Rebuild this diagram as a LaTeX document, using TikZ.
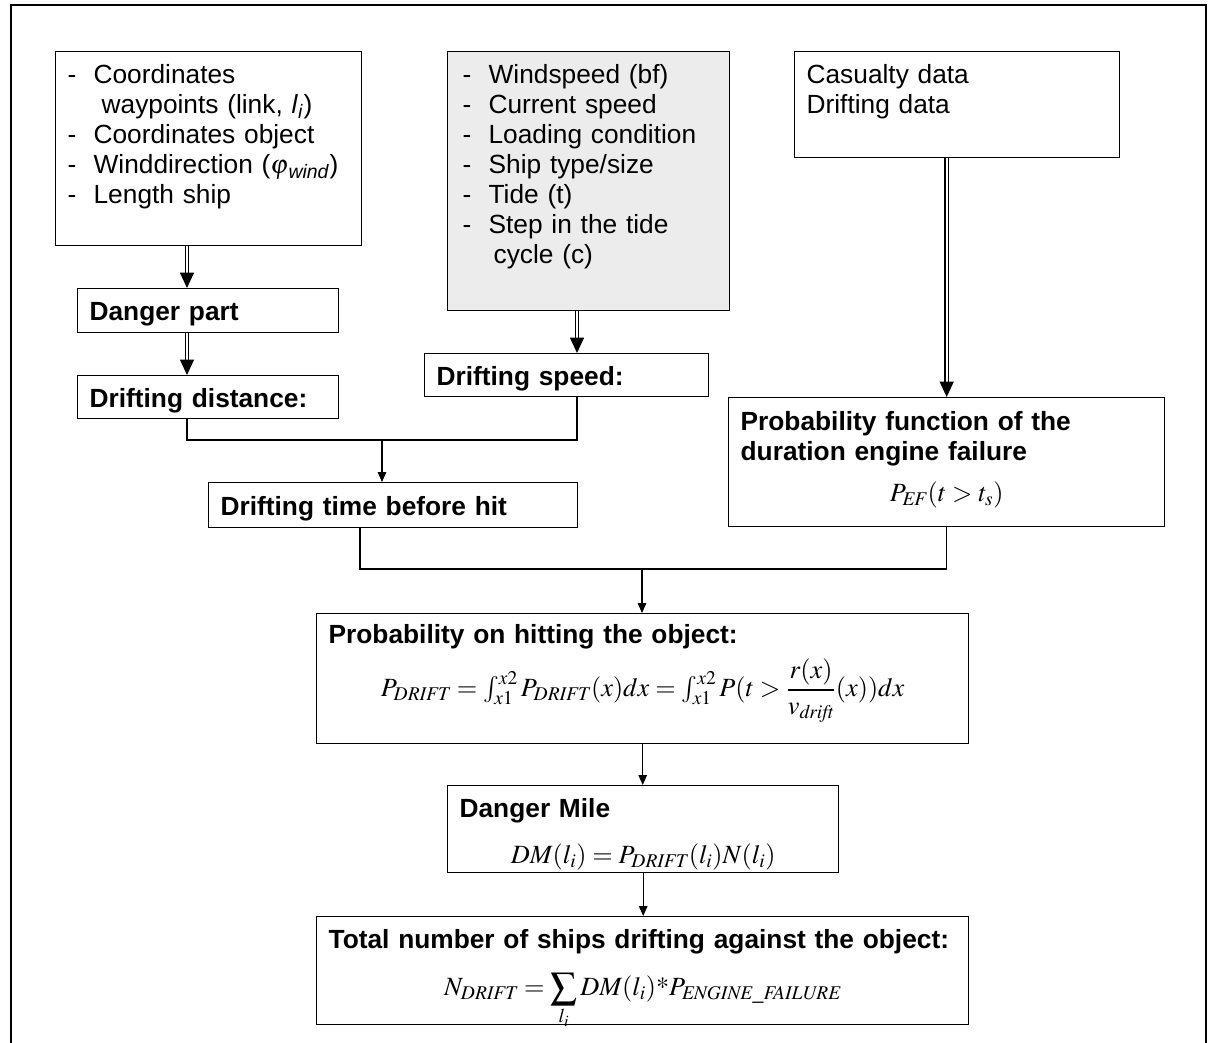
\documentclass[tikz,border=0pt]{standalone}
\usepackage{amsmath}
\usepackage{mathptmx}
\usepackage[no-math]{fontspec}
\setmainfont{Liberation Sans}
\usetikzlibrary{arrows.meta,calc}

\newcommand{\dashitem}[1]{\makebox[0.65cm][l]{-}#1}
\newcommand{\formline}[1]{\makebox[\linewidth]{#1}}

\tikzset{
  blk/.style={draw, line width=0.9pt, anchor=north west, inner xsep=0.3cm,
    inner ysep=0pt, align=left},
  wire/.style={line width=0.75pt},
  arr/.style={line width=0.75pt, -{Triangle[length=7pt,width=6pt]}},
  dbl/.style={double, double distance=1.6pt, line width=0.9pt,
    -{Triangle[length=11pt,width=10pt]}}
}

\begin{document}
\begin{tikzpicture}[x=0.025cm, y=-0.025cm, font=\fontsize{18.7}{21.3}\selectfont]
\useasboundingbox (0,0) rectangle (1212,1043);
\draw[line width=1.4pt] (11,1043) -- (11,5) -- (1206,5) -- (1206,1043);

% input boxes
\node (A) [blk, text width=7.05cm, text height=0.8cm, text depth=4.05cm] at (55,51)
  {\dashitem{Coordinates}\\
   \hspace*{0.85cm}waypoints (link, \textit{l}\textsubscript{\textit{i}})\\
   \dashitem{Coordinates object}\\
   \dashitem{Winddirection ($\varphi$\textsubscript{\textit{wind}})}\\
   \dashitem{Length ship}};
\node (B) [blk, fill=gray!15, inner xsep=0.375cm, text width=6.3cm, text height=0.8cm,
  text depth=5.675cm] at (447,51)
  {\dashitem{Windspeed (bf)}\\
   \dashitem{Current speed}\\
   \dashitem{Loading condition}\\
   \dashitem{Ship type/size}\\
   \dashitem{Tide (t)}\\
   \dashitem{Step in the tide}\\
   \hspace*{0.775cm}cycle (c)};
\node (C) [blk, text width=7.525cm, text height=0.8cm, text depth=1.85cm] at (794,51)
  {Casualty data\\ Drifting data};

% intermediate steps
\node (DP) [blk, text width=5.925cm, text height=0.8cm, text depth=0.3cm] at (77,288)
  {\textbf{Danger part}};
\node (DD) [blk, text width=5.925cm, text height=0.8cm, text depth=0.275cm] at (77,375)
  {\textbf{Drifting distance:}};
\node (DS) [blk, text width=6.5cm, text height=0.8cm, text depth=0.275cm] at (424,353)
  {\textbf{Drifting speed:}};
\node (DT) [blk, text width=8.625cm, text height=0.825cm, text depth=0.3cm] at (208,482)
  {\textbf{Drifting time before hit}};
\node (PF) [blk, text width=10.3cm, text height=0.825cm, text depth=2.4cm] at (728,397)
  {{\bfseries Probability function of the\\ duration engine failure}\par
   \vspace{8pt}\formline{$P_{\mathit{EF}}(t>t_s)$}};

% results
\node (PH) [blk, text width=15.7cm, text height=0.75cm, text depth=2.5cm] at (316,613)
  {\textbf{Probability on hitting the object:}\par
   \vspace{6pt}\formline{$P_{\mathit{DRIFT}}=\int_{x1}^{x2}P_{\mathit{DRIFT}}(x)dx
     =\int_{x1}^{x2}P(t>\dfrac{r(x)}{v_{\mathit{drift}}}(x))dx$}};
\node (DM) [blk, text width=9.175cm, text height=0.8cm, text depth=1.375cm] at (447,785)
  {\textbf{Danger Mile}\par
   \vspace{11pt}\formline{$DM(l_i)=P_{\mathit{DRIFT}}(l_i)N(l_i)$}};
\node (TN) [blk, text width=15.7cm, text height=0.8cm, text depth=1.9cm] at (316,916)
  {\textbf{Total number of ships drifting against the object:}\par
   \vspace{12pt}\formline{$\displaystyle N_{\mathit{DRIFT}}=\sum_{l_i}DM(l_i)\mathchar"702A
     P_{\mathit{ENGINE\_FAILURE}}$}};

% double arrows
\draw[dbl] ($(A.south west)+(132,0)$) -- ($(DP.north west)+(110,0)$);
\draw[dbl] ($(DP.south west)+(110,0)$) -- ($(DD.north west)+(110,0)$);
\draw[dbl] ($(B.south west)+(130,0)$) -- ($(DS.north west)+(153,0)$);
\draw[dbl] (C.south -| PF.north) -- (PF.north);

% joins
\coordinate (j1) at (382,440);
\draw[wire] ($(DD.south west)+(110,0)$) |- (j1) -| ($(DS.south west)+(153,0)$);
\draw[arr] (j1) -- (j1 |- DT.north);
\coordinate (j2) at (642,569);
\draw[wire] ($(DT.south west)+(152,0)$) |- (j2) -| (PF.south);
\draw[arr] (j2) -- (j2 |- PH.north);
\draw[arr] (PH.south) -- (PH.south |- DM.north);
\draw[arr] (DM.south) -- (DM.south |- TN.north);
\end{tikzpicture}
\end{document}
